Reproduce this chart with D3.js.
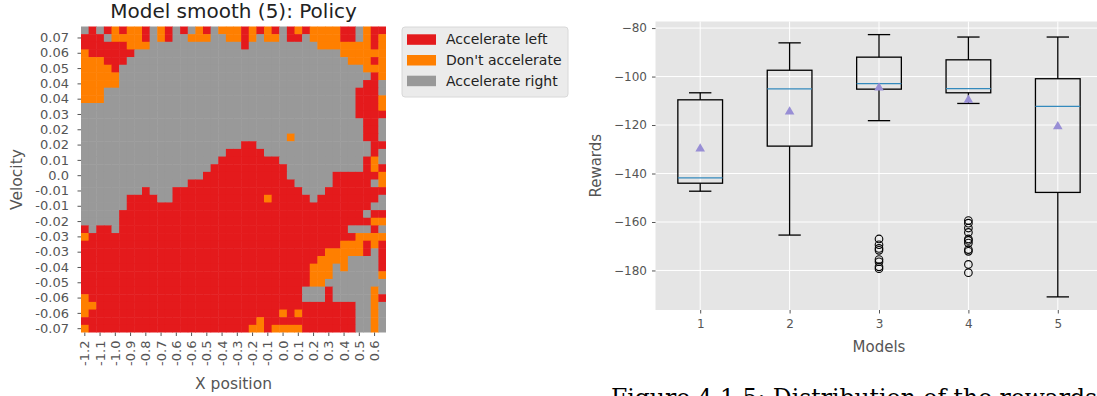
<!DOCTYPE html>
<html lang="en">
<head>
<meta charset="UTF-8">
<title>Model smooth (5): policy and rewards</title>
<script src="https://cdn.jsdelivr.net/npm/d3@7"></script>
<style>
  body { margin: 0; background: #fff; }
  svg { display: block; font-family: "DejaVu Sans", sans-serif; }
</style>
</head>
<body>
<svg id="chart" width="1097" height="396"></svg>
<script>
// policy grid, one string per velocity bin (top = highest velocity), one char per position bin
// L = accelerate left, N = don't accelerate, R = accelerate right (spaces only for reading)
const actionCodes = ["L", "N", "R"];
const actionNames = ["Accelerate left", "Don't accelerate", "Accelerate right"];
const actionColors = ["#e41a1c", "#ff7f00", "#999999"];

const positionTicks = ["-1.2", "-1.1", "-1.0", "-0.9", "-0.8", "-0.7", "-0.6", "-0.6", "-0.5", "-0.4",
                       "-0.3", "-0.2", "-0.1", "0.0", "0.1", "0.2", "0.3", "0.4", "0.5", "0.6"];
const velocityTicks = ["0.07", "0.06", "0.05", "0.04", "0.04", "0.03", "0.02", "0.02", "0.01", "0.0",
                       "-0.01", "-0.01", "-0.02", "-0.03", "-0.03", "-0.04", "-0.05", "-0.06", "-0.06", "-0.07"];

const policyRows = [
  "RLRLNLNNLR NLRLRNLRNN NLNLNLRLNL NNNNLLRNLL",
  "LLLRNNNNLR NLRRNNNRRN NLNRNNRLLR NNNNLLRNLN",
  "LLLLLLNNNR RRRRRRRRRR RLRRRRRRRR RNNNNNNNLN",
  "NLLLLLLRRR RRRRRRRRRR RRRRRRRRRR RRRRNNNNNN",
  "NNNLLLRRRR RRRRRRRRRR RRRRRRRRRR RRRRRNNNLN",
  "NNNNLRRRRR RRRRRRRRRR RRRRRRRRRR RRRRRRRNNN",
  "NNNNNRRRRR RRRRRRRRRR RRRRRRRRRR RRRRRRRRLN",
  "NNNNNRRRRR RRRRRRRRRR RRRRRRRRRR RRRRRRRLLR",
  "NNNRRRRRRR RRRRRRRRRR RRRRRRRRRR RRRRRRLLLR",
  "NNNRRRRRRR RRRRRRRRRR RRRRRRRRRR RRRRRRLLLN",
  "RRRRRRRRRR RRRRRRRRRR RRRRRRRRRR RRRRRRLLLN",
  "RRRRRRRRRR RRRRRRRRRR RRRRRRRRRR RRRRRRLLLL",
  "RRRRRRRRRR RRRRRRRRRR RRRRRRRRRR RRRRRRRLLR",
  "RRRRRRRRRR RRRRRRRRRR RRRRRRRRRR RRRRRRRLLR",
  "RRRRRRRRRR RRRRRRRRRR RRRRRRRNRR RRRRRRRLLR",
  "RRRRRRRRRR RRRRRRRRRR RLLRRRRRRR RRRRRRRRLL",
  "RRRRRRRRRR RRRRRRRRRL LLLLRRRRRR RRRRRRRRLR",
  "RRRRRRRRRR RRRRRRRRLL LLLLLLRRRR RRRRRRRLNR",
  "RRRRRRRRRR RRRRRRRLLL LLLLLLLRRR RRRRRRRLNL",
  "RRRRRRRRRR RRRRRRLLLL LLLLLLLRRR RRRLLLLLLN",
  "RRRRRRRRRR RRRRLLLLLL LLLLLLLLRR RRRLLLLLRN",
  "RRRRRRRRLR RRLLLLLLLL LLLLLLLLLR RRLLLLLLLL",
  "RRRRRRLLLL RRLLLLLLLL LLLLNLLLLL RLLLLLLLLR",
  "RRRRRRLLLL LLLLLLLLLL LLLLLLLLLL LLLLLLLLRR",
  "RRRRRLLLLL LLLLLLLLLL LLLLLLLLLL LLLLLLLRLL",
  "RRRRRLLLLL LLLLLLLLLL LLLLLLLLLL LLLLLLLLNN",
  "LRLLRLLLLL LLLLLLLLLL LLLLLLLLLL LLLLLRRRLR",
  "NLLLLLLLLL LLLLLLLLLL LLLLLLLLLL LLLLLLNNNN",
  "LLLLLLLLLL LLLLLLLLLL LLLLLLLLLL LLLLNNNLNL",
  "LLLLLLLLLL LLLLLLLLLL LLLLLLLLLL LLNNNNNLRL",
  "LLLLLLLLLL LLLLLLLLLL LLLLLLLLLL LNNNNRRRRL",
  "LLLLLLLLLL LLLLLLLLLL LLLLLLLLLL NNNRNRRRRL",
  "LLLLLLLLLL LLLLLLLLLL LLLLLLLLLL NNNRRRRRRN",
  "LLLLLLLLLL LLLLLLLLLL LLLLLLLLLL NNRRRRRRRR",
  "LLLLLLLLLL LLLLLLLLLL LLLLLLLLLR RRLRRRRRNR",
  "NLLLLLLLLL LLLLLLLLLL LLLLLLLLLR RRLRRRRRNL",
  "NNLLLLLLLL LLLLLLLLLL LLLLLLLLLL LLLLLLRRNR",
  "NLLLLLLLLL LLLLLLLLLL LLLLLLNLNL LLLLLLRRNR",
  "LLLLLLLLLL LLLLLLLLLL LLLNLLLLLL LLLLLLRRNR",
  "NLLLLLLLLL LLLLLLLLLL LLNNLNNNNL LLLLLLRRNR"
];

// reward distribution per model (box plot statistics)
const models = [1, 2, 3, 4, 5];
const whiskerHigh = [-106.7, -86.1, -82.7, -83.7, -83.7];
const upperQuartile = [-109.6, -97.4, -92.0, -93.1, -100.9];
const medians = [-141.8, -105.1, -102.9, -105.0, -112.3];
const lowerQuartile = [-144.0, -128.7, -105.2, -106.7, -147.8];
const whiskerLow = [-147.3, -165.4, -118.2, -111.1, -190.9];
const means = [-129.8, -114.5, -104.6, -109.7, -120.6];
const fliers = [
  [],
  [],
  [-167.0, -169.4, -170.9, -171.7, -175.5, -176.4, -178.5, -179.3],
  [-159.4, -160.5, -162.5, -164.3, -167.0, -167.6, -168.7, -171.4, -172.1, -177.5, -180.9],
  []
];
const rewardTicks = [-80, -100, -120, -140, -160, -180];

const svg = d3.select("#chart");
const grey = "#555555";

function tidyAxis(g, size) {
  g.attr("font-family", "DejaVu Sans").attr("font-size", size);
  g.select(".domain").remove();
  g.selectAll(".tick line").attr("stroke", grey).attr("stroke-width", 1);
  g.selectAll(".tick text").attr("fill", grey);
}

// ---------- policy heatmap ----------
const heat = { left: 81, right: 386, top: 26.5, bottom: 332.5 };
const grid = policyRows.map(r => r.replace(/ /g, ""));
grid.forEach((r, i) => { if (r.length !== 40) console.error("row", i, "has", r.length); });

const xCell = d3.scaleBand().domain(d3.range(40)).range([heat.left, heat.right]);
const yCell = d3.scaleBand().domain(d3.range(grid.length)).range([heat.top, heat.bottom]);
const colour = d3.scaleOrdinal().domain(actionCodes).range(actionColors);

const cells = grid.flatMap((row, r) => row.split("").map((code, c) => ({ r, c, code })));

svg.append("g")
  .selectAll("rect")
  .data(cells)
  .join("rect")
  .attr("x", d => xCell(d.c))
  .attr("y", d => yCell(d.r))
  .attr("width", d => xCell.bandwidth() + (d.c < 39 ? 0.5 : 0))
  .attr("height", d => yCell.bandwidth() + (d.r < grid.length - 1 ? 0.5 : 0))
  .attr("fill", d => colour(d.code));

svg.append("g")
  .attr("transform", `translate(${heat.left},0)`)
  .call(d3.axisLeft(yCell)
    .tickValues(d3.range(1, 40, 2))
    .tickFormat(d => velocityTicks[(d - 1) / 2])
    .tickSize(3.5)
    .tickPadding(8.5))
  .call(g => tidyAxis(g, 13));

svg.append("g")
  .attr("transform", `translate(0,${heat.bottom})`)
  .call(d3.axisBottom(xCell)
    .tickValues(d3.range(0, 40, 2))
    .tickFormat(d => positionTicks[d / 2])
    .tickSize(3.5))
  .call(g => tidyAxis(g, 13))
  .call(g => g.selectAll(".tick text")
    .attr("transform", "rotate(-90)")
    .attr("text-anchor", "end")
    .attr("x", -8)
    .attr("y", 0)
    .attr("dy", "0.35em"));

svg.append("text")
  .attr("x", (heat.left + heat.right) / 2)
  .attr("y", 18)
  .attr("text-anchor", "middle")
  .attr("font-size", 20)
  .attr("fill", "#222")
  .text("Model smooth (5): Policy");

svg.append("text")
  .attr("transform", `translate(22,${(heat.top + heat.bottom) / 2}) rotate(-90)`)
  .attr("text-anchor", "middle")
  .attr("font-size", 15.5)
  .attr("fill", grey)
  .text("Velocity");

svg.append("text")
  .attr("x", (heat.left + heat.right) / 2)
  .attr("y", 389)
  .attr("text-anchor", "middle")
  .attr("font-size", 15.5)
  .attr("fill", grey)
  .text("X position");

// legend
const legend = svg.append("g").attr("transform", "translate(402,27)");
legend.append("rect")
  .attr("width", 166).attr("height", 70).attr("rx", 3)
  .attr("fill", "#ebebeb").attr("stroke", "#d8d8d8");
const legendItem = legend.selectAll("g.item")
  .data(actionNames)
  .join("g")
  .attr("class", "item")
  .attr("transform", (d, i) => `translate(5,${12.5 + i * 20.7})`);
legendItem.append("rect")
  .attr("y", -5.2).attr("width", 29).attr("height", 10.5)
  .attr("fill", (d, i) => actionColors[i]);
legendItem.append("text")
  .attr("x", 39).attr("dy", "0.35em")
  .attr("font-size", 14).attr("fill", "#222")
  .text(d => d);

// ---------- reward box plot ----------
const plot = { left: 655.5, right: 1102.5, top: 21.5, bottom: 310 };
const lo = d3.min([...whiskerLow, ...fliers.flat()]);
const hi = d3.max([...whiskerHigh, ...fliers.flat()]);
const pad = (hi - lo) * 0.05;

const x = d3.scaleLinear().domain([0.5, 5.5]).range([plot.left, plot.right]);
const y = d3.scaleLinear().domain([lo - pad, hi + pad]).range([plot.bottom, plot.top]);

svg.append("rect")
  .attr("x", plot.left).attr("y", plot.top)
  .attr("width", plot.right - plot.left).attr("height", plot.bottom - plot.top)
  .attr("fill", "#e5e5e5");

// white grid
svg.append("g")
  .selectAll("line.h")
  .data(rewardTicks)
  .join("line")
  .attr("x1", plot.left).attr("x2", plot.right)
  .attr("y1", d => y(d)).attr("y2", d => y(d))
  .attr("stroke", "#fff").attr("stroke-width", 1);
svg.append("g")
  .selectAll("line.v")
  .data(models)
  .join("line")
  .attr("x1", d => x(d)).attr("x2", d => x(d))
  .attr("y1", plot.top).attr("y2", plot.bottom)
  .attr("stroke", "#fff").attr("stroke-width", 1);

svg.append("g")
  .attr("transform", `translate(${plot.left},0)`)
  .call(d3.axisLeft(y).tickValues(rewardTicks).tickFormat(d => "\u2212" + Math.abs(d)).tickSize(3.5).tickPadding(5))
  .call(g => tidyAxis(g, 12));

svg.append("g")
  .attr("transform", `translate(0,${plot.bottom})`)
  .call(d3.axisBottom(x).tickValues(models).tickFormat(d3.format("d")).tickSize(3.5).tickPadding(6))
  .call(g => tidyAxis(g, 12));

const boxes = svg.append("g")
  .selectAll("g.box")
  .data(models.map((m, i) => ({
    m, hiW: whiskerHigh[i], q3: upperQuartile[i], med: medians[i],
    q1: lowerQuartile[i], loW: whiskerLow[i], mean: means[i], out: fliers[i]
  })))
  .join("g")
  .attr("class", "box");

const half = (x(1.25) - x(1)), cap = half / 2;
const line = "#000";

boxes.append("line")
  .attr("x1", d => x(d.m)).attr("x2", d => x(d.m))
  .attr("y1", d => y(d.hiW)).attr("y2", d => y(d.q3))
  .attr("stroke", line).attr("stroke-width", 1.3);
boxes.append("line")
  .attr("x1", d => x(d.m)).attr("x2", d => x(d.m))
  .attr("y1", d => y(d.q1)).attr("y2", d => y(d.loW))
  .attr("stroke", line).attr("stroke-width", 1.3);
boxes.append("line")
  .attr("x1", d => x(d.m) - cap).attr("x2", d => x(d.m) + cap)
  .attr("y1", d => y(d.hiW)).attr("y2", d => y(d.hiW))
  .attr("stroke", line).attr("stroke-width", 1.3);
boxes.append("line")
  .attr("x1", d => x(d.m) - cap).attr("x2", d => x(d.m) + cap)
  .attr("y1", d => y(d.loW)).attr("y2", d => y(d.loW))
  .attr("stroke", line).attr("stroke-width", 1.3);
boxes.append("rect")
  .attr("x", d => x(d.m) - half).attr("width", half * 2)
  .attr("y", d => y(d.q3)).attr("height", d => y(d.q1) - y(d.q3))
  .attr("fill", "none").attr("stroke", line).attr("stroke-width", 1.3);
boxes.append("line")
  .attr("x1", d => x(d.m) - half).attr("x2", d => x(d.m) + half)
  .attr("y1", d => y(d.med)).attr("y2", d => y(d.med))
  .attr("stroke", "#348abd").attr("stroke-width", 1.3);
boxes.append("path")
  .attr("d", d3.symbol(d3.symbolTriangle, 40))
  .attr("transform", d => `translate(${x(d.m)},${y(d.mean)})`)
  .attr("fill", "#988ed5");
boxes.selectAll("circle")
  .data(d => d.out.map(v => ({ m: d.m, v })))
  .join("circle")
  .attr("cx", d => x(d.m)).attr("cy", d => y(d.v)).attr("r", 3.8)
  .attr("fill", "none").attr("stroke", "#000").attr("stroke-width", 1.1);

svg.append("text")
  .attr("transform", `translate(601,${(plot.top + plot.bottom) / 2}) rotate(-90)`)
  .attr("text-anchor", "middle")
  .attr("font-size", 15)
  .attr("fill", grey)
  .text("Rewards");

svg.append("text")
  .attr("x", (plot.left + plot.right) / 2)
  .attr("y", 352)
  .attr("text-anchor", "middle")
  .attr("font-size", 15)
  .attr("fill", grey)
  .text("Models");

// caption of the document page, only its top edge is inside the crop
svg.append("text")
  .attr("x", 611)
  .attr("y", 406)
  .attr("font-family", "DejaVu Serif")
  .attr("font-size", 23.5)
  .attr("fill", "#000")
  .text("Figure 4.1.5: Distribution of the rewards");
</script>
</body>
</html>
